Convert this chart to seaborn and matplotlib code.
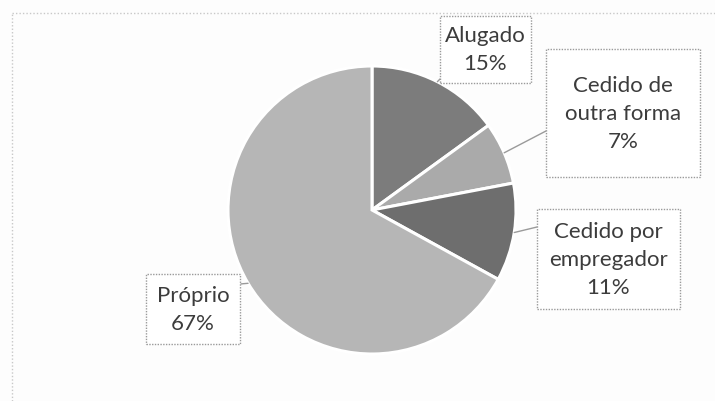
import numpy as np
import matplotlib
matplotlib.use("Agg")
import matplotlib.pyplot as plt
import seaborn as sns
from matplotlib.patches import Rectangle

# data
categories = ["Alugado", "Cedido de\noutra forma", "Cedido por\nempregador", "Próprio"]
shares = [15, 7, 11, 67]
slice_colors = ["#7c7c7c", "#aaaaaa", "#6e6e6e", "#b6b6b6"]

sns.set_style("white")
plt.rcParams["font.family"] = ["Lato", "DejaVu Sans"]

W, H = 715, 402
fig = plt.figure(figsize=(W / 100, H / 100), dpi=100)
ax = fig.add_axes([0, 0, 1, 1])
fig.patch.set_facecolor("#fdfdfd")

cx, cy, r = 372, H - 211, 144
wedges, _ = ax.pie(shares, colors=slice_colors, startangle=90, counterclock=False,
                   center=(cx, cy), radius=r, frame=True,
                   wedgeprops=dict(edgecolor="white", linewidth=2.2))
ax.set_xlim(0, W)
ax.set_ylim(0, H)
ax.set_aspect("equal")
ax.axis("off")

# label boxes (pixel coords: left, top, right, bottom) and leader anchor on box
boxes = [(440, 17, 531, 84), (546, 50, 700, 178), (537, 210, 680, 310), (146, 275, 240, 345)]
anchors = [(440, 80), (546, 132), (537, 228), (240, 285)]

for w, lab, pct, (x0, y0, x1, y1), (axp, ayp) in zip(wedges, categories, shares, boxes, anchors):
    mid = np.deg2rad((w.theta1 + w.theta2) / 2)
    ex, ey = cx + r * np.cos(mid), cy + r * np.sin(mid)
    ax.add_patch(Rectangle((x0, H - y1), x1 - x0, y1 - y0, facecolor="white",
                           edgecolor="#9a9a9a", linewidth=1, linestyle=(0, (1, 1)), zorder=3))
    ax.plot([axp, ex], [H - ayp, ey], color="#9a9a9a", linewidth=1, zorder=2)
    ax.text((x0 + x1) / 2, H - (y0 + y1) / 2, f"{lab}\n{pct}%", ha="center", va="center",
            fontsize=16, color="#3c3c3c", linespacing=1.5, zorder=4)

# dotted outer frame
ax.plot([12, W], [H - 14, H - 14], color="#c8c8c8", linewidth=1, linestyle=(0, (1, 1.5)))
ax.plot([12, 12], [0, H - 14], color="#c8c8c8", linewidth=1, linestyle=(0, (1, 1.5)))

fig.savefig("out.png", dpi=100)
